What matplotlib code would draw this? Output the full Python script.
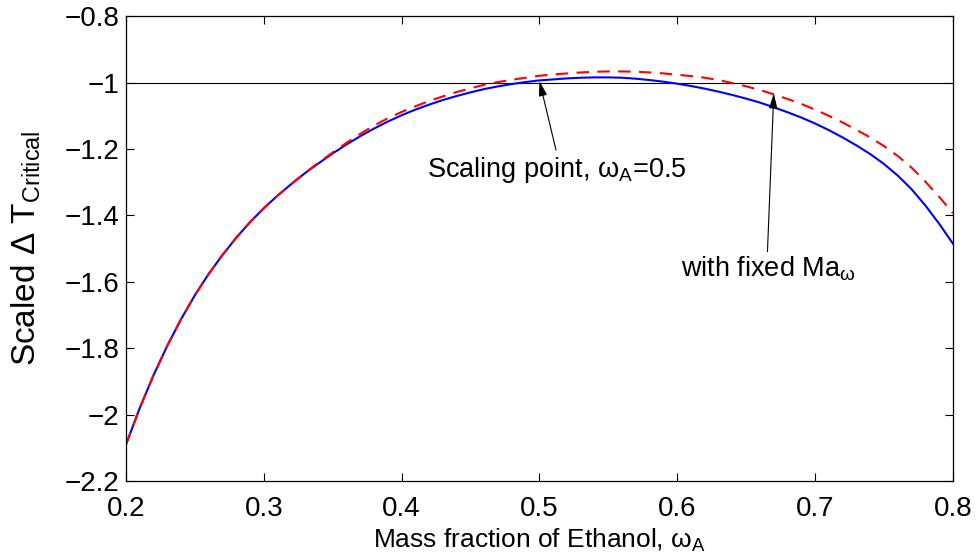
import matplotlib
matplotlib.use("Agg")
import matplotlib.pyplot as plt

# mass fraction of ethanol, 0.20 .. 0.80
omega = [0.20, 0.21, 0.22, 0.23, 0.24, 0.25, 0.26, 0.27, 0.28, 0.29,
         0.30, 0.31, 0.32, 0.33, 0.34, 0.35, 0.36, 0.37, 0.38, 0.39,
         0.40, 0.41, 0.42, 0.43, 0.44, 0.45, 0.46, 0.47, 0.48, 0.49,
         0.50, 0.51, 0.52, 0.53, 0.54, 0.55, 0.56, 0.57, 0.58, 0.59,
         0.60, 0.61, 0.62, 0.63, 0.64, 0.65, 0.66, 0.67, 0.68, 0.69,
         0.70, 0.71, 0.72, 0.73, 0.74, 0.75, 0.76, 0.77, 0.78, 0.79, 0.80]

# scaled critical temperature difference (blue, solid)
dT_scaled = [-2.090, -1.980, -1.881, -1.792, -1.712, -1.640, -1.576, -1.519, -1.467, -1.420,
             -1.378, -1.340, -1.305, -1.272, -1.242, -1.213, -1.186, -1.161, -1.138, -1.117,
             -1.098, -1.081, -1.066, -1.052, -1.040, -1.029, -1.019, -1.011, -1.004, -0.998,
             -0.993, -0.990, -0.987, -0.985, -0.984, -0.984, -0.985, -0.988, -0.992, -0.997,
             -1.003, -1.010, -1.018, -1.027, -1.037, -1.048, -1.060, -1.074, -1.089, -1.105,
             -1.123, -1.143, -1.165, -1.189, -1.215, -1.245, -1.280, -1.321, -1.370, -1.425,
             -1.485]

# with fixed Ma_omega (red, dashed)
dT_fixed_ma = [-2.090, -1.980, -1.881, -1.792, -1.712, -1.640, -1.576, -1.519, -1.467, -1.420,
               -1.378, -1.340, -1.305, -1.271, -1.240, -1.210, -1.181, -1.154, -1.129, -1.107,
               -1.088, -1.071, -1.055, -1.041, -1.028, -1.017, -1.006, -0.998, -0.991, -0.985,
               -0.979, -0.975, -0.972, -0.969, -0.967, -0.966, -0.966, -0.967, -0.969, -0.972,
               -0.976, -0.980, -0.985, -0.992, -1.001, -1.011, -1.022, -1.035, -1.049, -1.064,
               -1.081, -1.100, -1.120, -1.142, -1.165, -1.191, -1.221, -1.256, -1.298, -1.344,
               -1.393]

xticks = [0.2, 0.3, 0.4, 0.5, 0.6, 0.7, 0.8]
yticks = [-2.2, -2.0, -1.8, -1.6, -1.4, -1.2, -1.0, -0.8]
yticklabels = ['\u22122.2', '\u22122', '\u22121.8', '\u22121.6', '\u22121.4',
               '\u22121.2', '\u22121', '\u22120.8']

plt.rcParams['font.family'] = ['Liberation Sans', 'DejaVu Sans']
plt.rcParams['mathtext.fontset'] = 'custom'
plt.rcParams['mathtext.rm'] = 'Liberation Sans'
plt.rcParams['mathtext.it'] = 'Liberation Sans:italic'
plt.rcParams['mathtext.bf'] = 'Liberation Sans:bold'

fig = plt.figure(figsize=(9.76, 5.59), dpi=100)
ax = fig.add_axes([0.1291, 0.1395, 0.8473, 0.8313])

ax.axhline(-1.0, color='k', lw=0.8)
ax.plot(omega, dT_scaled, color=(0, 0, 1), lw=1.5)
ax.plot(omega, dT_fixed_ma, color=(1, 0, 0), lw=1.5, dashes=(6, 4))

ax.set_xlim(0.2, 0.8)
ax.set_ylim(-2.2, -0.8)
ax.set_xticks(xticks)
ax.set_xticklabels([str(t) for t in xticks])
ax.set_yticks(yticks)
ax.set_yticklabels(yticklabels)
ax.tick_params(direction='in', length=6, width=0.8, top=True, right=True,
               labelsize=20, colors='k')
ax.tick_params(axis='x', pad=11)
ax.tick_params(axis='y', pad=5)
for s in ax.spines.values():
    s.set_linewidth(0.9)

ax.set_xlabel('Mass fraction of Ethanol, \u03c9$_{\\mathrm{A}}$', fontsize=19,
              labelpad=3)
ax.set_ylabel('Scaled \u0394 T$_{\\mathrm{Critical}}$', fontsize=24, labelpad=15)

arrow = dict(arrowstyle='-|>,head_length=0.9,head_width=0.25', color='k',
             lw=0.8, shrinkA=0, shrinkB=0)
ax.annotate('', xy=(0.500, -0.995), xytext=(0.512, -1.203), arrowprops=arrow)
ax.annotate('', xy=(0.670, -1.032), xytext=(0.6654, -1.509), arrowprops=arrow)

ax.text(0.5123, -1.284, 'Scaling point, \u03c9$_{\\mathrm{A}}$=0.5', fontsize=19.5,
        ha='center', va='baseline')
ax.text(0.666, -1.584, 'with fixed Ma$_{\\mathrm{\u03c9}}$', fontsize=19.5,
        ha='center', va='baseline')

fig.savefig('out.png', dpi=100)
